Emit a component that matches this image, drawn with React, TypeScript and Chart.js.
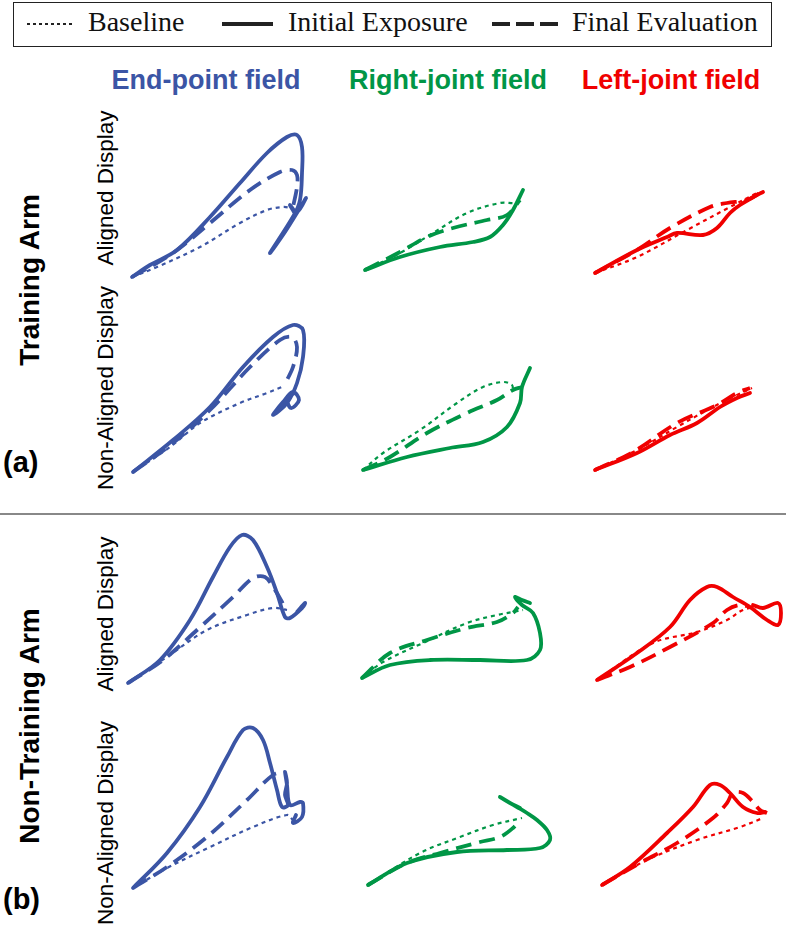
import React, { useEffect, useRef } from "react";
import { Chart, registerables } from "chart.js";
Chart.register(...registerables);

// Trajectories: hand position relative to the start point, in mm (x right, y forward/up)
type P = [number, number];

const fields = ["End-point field", "Right-joint field", "Left-joint field"];
const conditions = ["Training Arm / Aligned", "Training Arm / Non-Aligned", "Non-Training Arm / Aligned", "Non-Training Arm / Non-Aligned"];
const legendLabels = ["Baseline", "Initial Exposure", "Final Evaluation"];

// ---- Training arm, aligned display ----
const tA_end_base: P[] = [[0,0],[25,10],[68,30],[108,54],[135,67],[151,70],[160,69]];
const tA_end_init: P[] = [[0,0],[18,12],[45,27],[78,60],[108,94],[135,124],[155,140],[165,142],[170,130],[170,104],[168,77],[162,62],[138,24],[153,45],[168,69],[174,79],[165,65],[158,72],[162,65]];
const tA_end_final: P[] = [[0,0],[41,24],[78,54],[118,87],[148,105],[160,107],[165,102],[165,90],[161,70]];
const tA_right_base: P[] = [[0,0],[35,17],[68,37],[102,57],[135,67],[152,67],[155,70]];
const tA_right_init: P[] = [[0,0],[35,13],[75,23],[108,28],[125,33],[138,45],[148,60],[158,80]];
const tA_right_final: P[] = [[0,0],[35,18],[62,33],[88,42],[122,50],[142,55],[155,70]];
const tA_left_base: P[] = [[0,0],[42,16],[92,43],[135,66],[162,80]];
const tA_left_init: P[] = [[0,0],[42,23],[72,36],[82,40],[108,38],[122,45],[135,60],[145,68],[162,78],[168,81]];
const tA_left_final: P[] = [[0,0],[42,23],[75,45],[115,66],[132,70],[152,73],[165,80]];

// ---- Training arm, non-aligned display ----
const tN_end_base: P[] = [[0,0],[37,25],[67,49],[107,69],[134,79],[149,85]];
const tN_end_init: P[] = [[0,0],[40,32],[77,65],[110,105],[140,135],[160,147],[170,142],[170,115],[164,89],[154,69],[140,57],[150,70],[160,80],[166,72],[158,64],[154,74],[160,78]];
const tN_end_final: P[] = [[0,0],[40,29],[77,62],[117,105],[147,132],[159,135],[164,125],[160,105],[154,92]];
const tN_right_base: P[] = [[0,0],[20,17],[57,40],[94,67],[120,83],[140,88],[149,85],[150,80]];
const tN_right_init: P[] = [[0,0],[44,13],[87,22],[120,28],[144,43],[157,67],[159,83],[167,102]];
const tN_right_final: P[] = [[0,0],[27,13],[64,37],[104,57],[134,70],[150,80],[159,83]];
const tN_left_base: P[] = [[0,0],[42,20],[82,43],[118,63],[142,75],[157,82]];
const tN_left_init: P[] = [[0,0],[42,17],[75,35],[102,47],[125,63],[142,72],[155,77]];
const tN_left_final: P[] = [[0,0],[38,18],[82,47],[122,65],[142,77],[155,82]];

// ---- Non-training arm, aligned display ----
const nA_end_base: P[] = [[0,0],[39,26],[79,53],[119,68],[145,75],[159,73]];
const nA_end_init: P[] = [[0,0],[32,23],[62,63],[85,106],[102,136],[114,148],[125,143],[139,116],[149,90],[157,66],[162,65],[175,76],[177,80],[169,71]];
const nA_end_final: P[] = [[0,0],[35,23],[69,53],[105,86],[125,105],[137,106],[145,96],[154,81],[157,73]];
const nA_right_base: P[] = [[0,0],[21,16],[61,35],[105,55],[135,63],[151,66],[161,68]];
const nA_right_init: P[] = [[0,0],[28,13],[68,18],[118,18],[165,18],[178,28],[178,45],[171,65],[160,73],[153,81],[160,78],[168,75]];
const nA_right_final: P[] = [[0,0],[28,25],[65,38],[105,50],[135,56],[151,65],[156,71]];
const nA_left_base: P[] = [[0,0],[56,37],[100,48],[130,60],[146,70],[160,73]];
const nA_left_init: P[] = [[0,0],[40,27],[73,53],[93,80],[110,93],[120,93],[136,83],[153,73],[170,60],[181,55],[184,67],[181,77],[166,72],[156,75]];
const nA_left_final: P[] = [[0,0],[33,13],[73,33],[116,57],[130,70],[143,75],[153,73]];

// ---- Non-training arm, non-aligned display ----
const nN_end_base: P[] = [[0,0],[34,20],[77,41],[120,61],[154,73],[160,68]];
const nN_end_init: P[] = [[0,0],[34,35],[67,81],[94,131],[110,158],[120,160],[130,148],[137,125],[144,98],[149,81],[155,83],[152,93],[154,105],[152,116],[154,103],[157,83],[167,86],[170,85],[169,71],[160,65],[163,73]];
const nN_end_final: P[] = [[0,0],[34,21],[74,51],[114,88],[140,113],[152,116]];
const nN_right_base: P[] = [[0,0],[52,32],[92,48],[125,60],[154,67]];
const nN_right_init: P[] = [[0,0],[39,22],[89,33],[139,35],[172,37],[182,45],[179,55],[169,65],[159,72],[149,78],[132,88],[142,82],[152,77]];
const nN_right_final: P[] = [[0,0],[39,22],[72,32],[112,43],[132,48],[145,57],[152,65]];
const nN_left_base: P[] = [[0,0],[45,25],[95,45],[138,58],[161,67]];
const nN_left_init: P[] = [[0,0],[28,18],[65,52],[91,78],[108,100],[118,100],[128,92],[141,78],[155,72],[163,73]];
const nN_left_final: P[] = [[0,0],[38,22],[75,42],[111,67],[125,82],[131,92],[141,92],[151,83],[158,75],[165,72]];

const COLORS = ["rgb(59,85,165)", "rgb(0,150,70)", "rgb(240,0,0)"];

const panelData: [P[], P[], P[]][][] = [
  [[tA_end_base, tA_end_init, tA_end_final], [tA_right_base, tA_right_init, tA_right_final], [tA_left_base, tA_left_init, tA_left_final]],
  [[tN_end_base, tN_end_init, tN_end_final], [tN_right_base, tN_right_init, tN_right_final], [tN_left_base, tN_left_init, tN_left_final]],
  [[nA_end_base, nA_end_init, nA_end_final], [nA_right_base, nA_right_init, nA_right_final], [nA_left_base, nA_left_init, nA_left_final]],
  [[nN_end_base, nN_end_init, nN_end_final], [nN_right_base, nN_right_init, nN_right_final], [nN_left_base, nN_left_init, nN_left_final]],
];

// layout (start point location of each panel on the page)
const colX = [[132, 365, 595], [133, 363, 595], [128, 362, 597], [133, 368, 602]];
const rowY = [[277, 270, 273], [472, 470, 470], [683, 678, 680], [888, 885, 885]];
const X_MIN = -20, X_MAX = 200, Y_MIN = -20, Y_MAX = 170;

function Panel({ series, color, sx, sy }: { series: [P[], P[], P[]]; color: string; sx: number; sy: number }) {
  const ref = useRef<HTMLCanvasElement>(null);
  useEffect(() => {
    if (!ref.current) return;
    const toPts = (a: P[]) => a.map(([x, y]) => ({ x, y }));
    const chart = new Chart(ref.current, {
      type: "scatter",
      data: {
        datasets: [
          { data: toPts(series[0]), showLine: true, borderColor: color, borderWidth: 2.2, borderDash: [4, 4], pointRadius: 0, tension: 0.35, clip: false } as any,
          { data: toPts(series[1]), showLine: true, borderColor: color, borderWidth: 3.8, borderCapStyle: "round", borderJoinStyle: "round", pointRadius: 0, tension: 0.35, clip: false } as any,
          { data: toPts(series[2]), showLine: true, borderColor: color, borderWidth: 3.8, borderDash: [16, 8], pointRadius: 0, tension: 0.35, clip: false } as any,
        ],
      },
      options: {
        animation: false,
        responsive: false,
        events: [],
        layout: { padding: 0 },
        plugins: { legend: { display: false }, tooltip: { enabled: false } },
        scales: {
          x: { type: "linear", display: false, min: X_MIN, max: X_MAX },
          y: { type: "linear", display: false, min: Y_MIN, max: Y_MAX },
        },
      },
    });
    return () => chart.destroy();
  }, []);
  const w = X_MAX - X_MIN, h = Y_MAX - Y_MIN;
  return (
    <canvas ref={ref} width={w} height={h}
      style={{ position: "absolute", left: sx + X_MIN, top: sy - Y_MAX, width: w, height: h }} />
  );
}

const sans = "'Liberation Sans', Arial, Helvetica, sans-serif";
const serif = "'Liberation Serif', 'Times New Roman', serif";

function VText({ text, cx, cy, size, bold }: { text: string; cx: number; cy: number; size: number; bold?: boolean }) {
  return (
    <div style={{ position: "absolute", left: cx, top: cy, transform: "translate(-50%,-50%) rotate(-90deg)", whiteSpace: "nowrap", fontFamily: sans, fontSize: size, fontWeight: bold ? 700 : 400, lineHeight: 1 }}>{text}</div>
  );
}

export default function App() {
  useEffect(() => { document.body.style.margin = "0"; }, []);
  return (
    <div style={{ position: "relative", width: 786, height: 934, background: "#fff", overflow: "hidden" }}>
      {/* legend */}
      <div style={{ position: "absolute", left: 13, top: 2, width: 757, height: 43, border: "1.5px solid #222" }} />
      <div style={{ position: "absolute", left: 27, top: 23, width: 48, height: 2, backgroundImage: "repeating-linear-gradient(90deg,#222 0 3px,transparent 3px 6px)" }} />
      <div style={{ position: "absolute", left: 88, top: 7, fontFamily: serif, fontSize: 28, lineHeight: "30px", color: "#111" }}>{legendLabels[0]}</div>
      <div style={{ position: "absolute", left: 222, top: 22, width: 51, height: 4, background: "#222" }} />
      <div style={{ position: "absolute", left: 288, top: 7, fontFamily: serif, fontSize: 28, lineHeight: "30px", color: "#111" }}>{legendLabels[1]}</div>
      <div style={{ position: "absolute", left: 492, top: 22, width: 66, height: 4, backgroundImage: "repeating-linear-gradient(90deg,#222 0 18px,transparent 18px 24px)" }} />
      <div style={{ position: "absolute", left: 572, top: 7, fontFamily: serif, fontSize: 28, lineHeight: "30px", color: "#111" }}>{legendLabels[2]}</div>

      {/* column titles */}
      {fields.map((f, i) => (
        <div key={f} style={{ position: "absolute", left: [206, 448, 671][i], top: 80, transform: "translate(-50%,-50%)", whiteSpace: "nowrap", fontFamily: sans, fontWeight: 700, fontSize: 27, color: COLORS[i] }}>{f}</div>
      ))}

      {/* row labels */}
      <VText text="Training Arm" cx={30} cy={280} size={28} bold />
      <VText text="Aligned Display" cx={106} cy={188} size={22.5} />
      <VText text="Non-Aligned Display" cx={106} cy={388} size={22.5} />
      <div style={{ position: "absolute", left: 3, top: 446, fontFamily: sans, fontWeight: 700, fontSize: 29, lineHeight: "32px" }}>(a)</div>
      <div style={{ position: "absolute", left: 0, top: 513, width: 786, height: 1.5, background: "#888" }} />
      <VText text="Non-Training Arm" cx={30} cy={726} size={28} bold />
      <VText text="Aligned Display" cx={106} cy={614} size={22.5} />
      <VText text="Non-Aligned Display" cx={106} cy={823} size={22.5} />
      <div style={{ position: "absolute", left: 3, top: 883, fontFamily: sans, fontWeight: 700, fontSize: 29, lineHeight: "32px" }}>(b)</div>

      {/* panels */}
      {panelData.map((row, r) => row.map((s, c) => (
        <Panel key={conditions[r] + fields[c]} series={s} color={COLORS[c]} sx={colX[r][c]} sy={rowY[r][c]} />
      )))}
    </div>
  );
}
